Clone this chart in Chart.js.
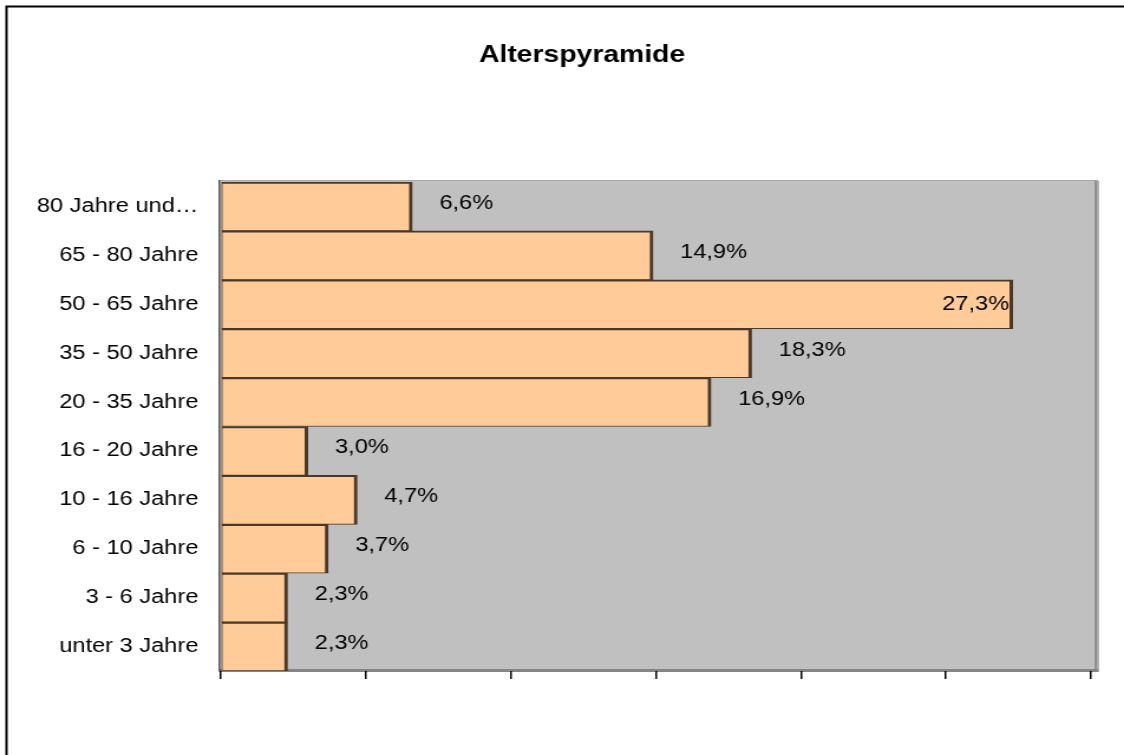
<!DOCTYPE html>
<html>
<head>
<meta charset="utf-8">
<script src="https://cdn.jsdelivr.net/npm/chart.js@4/dist/chart.umd.min.js"></script>
<style>
  html, body { margin: 0; padding: 0; background: #ffffff; overflow: hidden; }
  #wrap { width: 1124px; height: 755px; position: relative; }
  #c { position: absolute; left: 0; top: 0; transform-origin: 0 0; transform: scaleX(1.1807); }
</style>
</head>
<body>
<div id="wrap"><canvas id="c" width="952" height="755"></canvas></div>
<script>
// ---- data ----
const chartTitle = "Alterspyramide";
const categories = ["80 Jahre und\u2026", "65 - 80 Jahre", "50 - 65 Jahre", "35 - 50 Jahre", "20 - 35 Jahre",
                    "16 - 20 Jahre", "10 - 16 Jahre", "6 - 10 Jahre", "3 - 6 Jahre", "unter 3 Jahre"];
const shares = [6.6, 14.9, 27.3, 18.3, 16.9, 3.0, 4.7, 3.7, 2.3, 2.3];
const axisMin = 0;
const axisMax = 30;
const axisStep = 5;

const FONT = '"Liberation Sans", Arial, sans-serif';

const decorPlugin = {
  id: 'decor',
  beforeDraw(chart) {
    const ctx = chart.ctx;
    const a = chart.chartArea;
    ctx.save();
    // outer frame (top and left edges visible)
    ctx.strokeStyle = '#000000';
    ctx.lineWidth = 2;
    ctx.beginPath();
    ctx.moveTo(5.5, 760);
    ctx.lineTo(5.5, 6.5);
    ctx.lineTo(960, 6.5);
    ctx.stroke();
    // title
    ctx.fillStyle = '#000000';
    ctx.font = 'bold 24px ' + FONT;
    ctx.textAlign = 'center';
    ctx.textBaseline = 'middle';
    ctx.fillText(chartTitle, 493, 55);
    // plot wall
    ctx.fillStyle = '#c0c0c0';
    ctx.fillRect(a.left - 2, a.top - 2, a.right - a.left + 8, a.bottom - a.top + 2);
    // right shadow
    ctx.fillStyle = '#8e8e8e';
    ctx.fillRect(a.right + 3, a.top - 1, 2.5, a.bottom - a.top + 2);
    ctx.fillStyle = '#b4b4b4';
    ctx.fillRect(a.right + 5.5, a.top - 1, 1.5, a.bottom - a.top + 2);
    // bottom shadow
    ctx.fillStyle = '#858585';
    ctx.fillRect(a.left - 2, a.bottom - 2, a.right - a.left + 8, 3);
    // top edge
    ctx.fillStyle = '#a8a8a8';
    ctx.fillRect(a.left - 2, a.top - 2, a.right - a.left + 8, 1);
    // left edge
    ctx.fillStyle = '#555555';
    ctx.fillRect(a.left - 2, a.top - 2, 1.5, a.bottom - a.top + 2);
    ctx.restore();
  },
  afterDatasetsDraw(chart) {
    const ctx = chart.ctx;
    const a = chart.chartArea;
    const meta = chart.getDatasetMeta(0);
    ctx.save();
    ctx.font = '20px ' + FONT;
    ctx.fillStyle = '#000000';
    ctx.textBaseline = 'middle';
    meta.data.forEach((bar, i) => {
      const txt = shares[i].toFixed(1).replace('.', ',') + '%';
      const w = ctx.measureText(txt).width;
      const off = 23;
      if (bar.x + off + w > a.right) {
        ctx.textAlign = 'right';
        ctx.fillText(txt, bar.x - 3, bar.y);
      } else {
        ctx.textAlign = 'left';
        ctx.fillText(txt, bar.x + off, bar.y - 3);
      }
    });
    ctx.restore();
  }
};

new Chart(document.getElementById('c'), {
  type: 'bar',
  data: {
    labels: categories,
    datasets: [{
      data: shares,
      backgroundColor: '#ffcc99',
      borderColor: '#4a3828',
      borderWidth: { top: 2, right: 3, bottom: 1, left: 1 },
      borderSkipped: false,
      barPercentage: 1,
      categoryPercentage: 1
    }]
  },
  options: {
    indexAxis: 'y',
    responsive: false,
    animation: false,
    devicePixelRatio: 1,
    layout: { padding: { top: 182, right: 28, bottom: 0, left: 0 } },
    plugins: {
      legend: { display: false },
      tooltip: { enabled: false },
      title: { display: false }
    },
    scales: {
      x: {
        type: 'linear',
        min: axisMin,
        max: axisMax,
        ticks: { stepSize: axisStep, display: false },
        grid: { drawOnChartArea: false, drawTicks: true, tickLength: 8, color: '#000000', lineWidth: 1.5 },
        border: { display: false },
        afterFit(scale) { scale.height = 84; }
      },
      y: {
        ticks: { color: '#000000', font: { family: FONT, size: 20 }, padding: 11, autoSkip: false },
        grid: { display: false },
        border: { display: false },
        afterFit(scale) { scale.width = 187; }
      }
    }
  },
  plugins: [decorPlugin]
});
</script>
</body>
</html>
